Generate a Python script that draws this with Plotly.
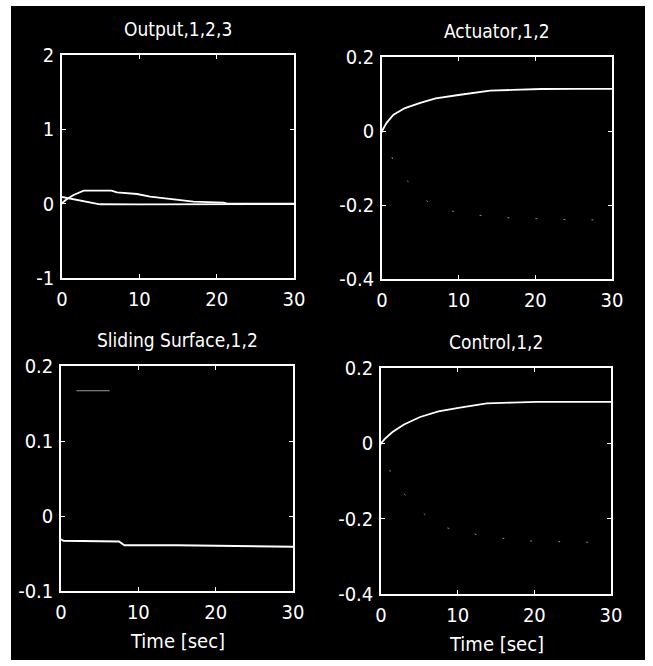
import plotly.graph_objects as go

# ---------------- data ----------------
out_t1 = [0, 0.2, 0.8, 1.5, 2.8, 4, 5, 6.4, 7.1, 9.7, 11.4, 14.4, 17, 20.9, 21.3, 25, 30]
out_y1 = [0.0, 0.027, 0.073, 0.117, 0.175, 0.178, 0.178, 0.175, 0.153, 0.13, 0.094, 0.063, 0.027, 0.013, 0.005, 0.0, 0.0]
out_t2 = [0, 0.2, 1.25, 2.3, 3.2, 4.9, 10, 15, 20, 25, 30]
out_y2 = [0.09, 0.086, 0.059, 0.036, 0.019, -0.008, -0.01, -0.01, -0.008, -0.005, -0.005]

act_t = [0, 0.6, 1.5, 3, 5, 7, 10.2, 14.1, 17, 20.8, 25, 30]
act_y1 = [0.0, 0.022, 0.044, 0.062, 0.076, 0.088, 0.098, 0.109, 0.111, 0.1135, 0.114, 0.114]
act_y2 = [0.0, -0.04, -0.08, -0.127, -0.177, -0.205, -0.222, -0.231, -0.235, -0.238, -0.24, -0.24]

sl_t1 = [0, 0.3, 7.5, 8.2, 15, 20, 30]
sl_y1 = [-0.031, -0.033, -0.034, -0.039, -0.039, -0.04, -0.041]
sl_t2 = [2, 6.3]
sl_y2 = [0.167, 0.167]

ctl_t = [0, 0.5, 1.5, 3, 5.1, 7.5, 10.3, 13.8, 17, 20.3, 25, 30]
ctl_y1 = [0.0, 0.012, 0.03, 0.05, 0.07, 0.085, 0.095, 0.106, 0.108, 0.11, 0.11, 0.11]
ctl_t2 = [0, 1.2, 2.7, 4, 4.9, 7.7, 9.9, 14, 18.8, 24, 30]
ctl_y2 = [0.0, -0.075, -0.125, -0.16, -0.176, -0.219, -0.232, -0.248, -0.259, -0.262, -0.264]

titles = ["Output,1,2,3", "Actuator,1,2", "Sliding Surface,1,2", "Control,1,2"]
x_ticks = [0, 10, 20, 30]
x_ticktext = ["0", "10", "20", "30"]
out_ticks = [-1, 0, 1, 2]
out_ticktext = ["-1", "0", "1", "2"]
act_ticks = [-0.4, -0.2, 0, 0.2]
act_ticktext = ["-0.4", "-0.2", "0", "0.2"]
sl_ticks = [-0.1, 0, 0.1, 0.2]
sl_ticktext = ["-0.1", "0", "0.1", "0.2"]
xlabel = "Time [sec]"

# ---------------- figure ----------------
FONT = "Liberation Sans Narrow, DejaVu Sans Condensed, Liberation Sans, Arial, sans-serif"
W, H = 653, 666
ML, MR, MT, MB = 11, 8, 6, 6

fig = go.Figure()

main = dict(color="white", width=1.8)
faint = dict(color="#8a8a8a", width=1, dash="2px,26px")

fig.add_trace(go.Scatter(x=out_t1, y=out_y1, mode="lines", line=main, xaxis="x", yaxis="y"))
fig.add_trace(go.Scatter(x=out_t2, y=out_y2, mode="lines", line=main, xaxis="x", yaxis="y"))
fig.add_trace(go.Scatter(x=act_t, y=act_y1, mode="lines", line=main, xaxis="x2", yaxis="y2"))
fig.add_trace(go.Scatter(x=act_t, y=act_y2, mode="lines", line=faint, xaxis="x2", yaxis="y2"))
fig.add_trace(go.Scatter(x=sl_t1, y=sl_y1, mode="lines", line=main, xaxis="x3", yaxis="y3"))
fig.add_trace(go.Scatter(x=sl_t2, y=sl_y2, mode="lines", line=dict(color="#9a9a9a", width=1.2), xaxis="x3", yaxis="y3"))
fig.add_trace(go.Scatter(x=ctl_t, y=ctl_y1, mode="lines", line=main, xaxis="x4", yaxis="y4"))
fig.add_trace(go.Scatter(x=ctl_t2, y=ctl_y2, mode="lines", line=faint, xaxis="x4", yaxis="y4"))

def px_x(px):
    return (px - ML) / (W - ML - MR)

def px_y(py):
    return 1 - (py - MT) / (H - MT - MB)

# pixel boxes (left, right, top, bottom)
boxes = [(62, 294, 55, 278), (382, 612, 57, 279), (61, 293, 366, 591), (381, 611, 368, 594)]
yt = [(out_ticks, out_ticktext, [-1, 2]), (act_ticks, act_ticktext, [-0.4, 0.2]),
      (sl_ticks, sl_ticktext, [-0.1, 0.2]), (act_ticks, act_ticktext, [-0.4, 0.2])]

axcommon = dict(showgrid=False, zeroline=False, showline=True, mirror="ticks",
                linecolor="white", linewidth=1.5, ticks="inside", ticklen=4,
                tickcolor="white", tickwidth=1, automargin=False,
                tickfont=dict(family=FONT, size=20, color="white"))

layout = {}
ann = []
for i, (l, r, t, b) in enumerate(boxes):
    sfx = "" if i == 0 else str(i + 1)
    xd = [px_x(l), px_x(r)]
    yd = [px_y(b), px_y(t)]
    layout["xaxis" + sfx] = dict(domain=xd, range=[0, 30], tickvals=x_ticks, ticktext=x_ticktext,
                                 anchor="y" + sfx, ticklabelstandoff=2, **axcommon)
    layout["yaxis" + sfx] = dict(domain=yd, range=yt[i][2], tickvals=yt[i][0], ticktext=yt[i][1],
                                 anchor="x" + sfx, ticklabelstandoff=2, **axcommon)
    ann.append(dict(text=titles[i], x=(xd[0] + xd[1]) / 2, y=yd[1], xref="paper", yref="paper",
                    xanchor="center", yanchor="bottom", yshift=13, showarrow=False,
                    font=dict(family=FONT, size=19, color="white")))
    if i >= 2:
        ann.append(dict(text=xlabel, x=(xd[0] + xd[1]) / 2, y=yd[0], xref="paper", yref="paper",
                        xanchor="center", yanchor="top", yshift=-36, showarrow=False,
                        font=dict(family=FONT, size=20, color="white")))

fig.update_layout(
    width=W, height=H, autosize=False,
    margin=dict(l=ML, r=MR, t=MT, b=MB, pad=0, autoexpand=False),
    paper_bgcolor="white", plot_bgcolor="black",
    showlegend=False,
    annotations=ann,
    shapes=[dict(type="rect", xref="paper", yref="paper", x0=0, x1=1, y0=0, y1=1,
                 fillcolor="black", line=dict(width=0), layer="below")],
    **layout,
)

fig.write_html("out.html", config={"displayModeBar": False},
               post_script="document.body.style.margin='0';document.body.style.overflow='hidden';")
